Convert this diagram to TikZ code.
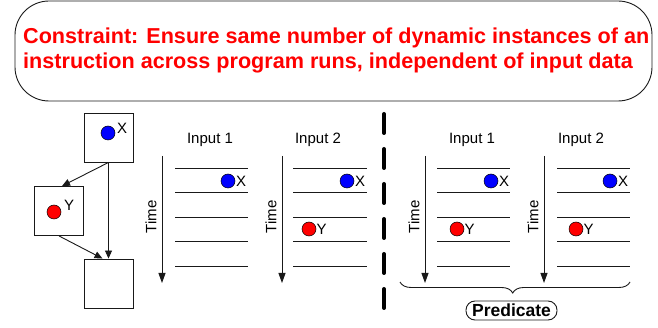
\documentclass[tikz,border=0pt]{standalone}
\usepackage{fontspec}
\setmainfont{Liberation Sans}
\usetikzlibrary{arrows.meta,decorations.pathreplacing}
\begin{document}
\begin{tikzpicture}[x=1pt,y=-1pt,
  every node/.style={inner sep=0pt},
  stroke/.style={line width=0.9pt,draw=black!90},
  blockbox/.style={draw,stroke,minimum width=49pt,minimum height=49pt},
  dotb/.style={circle,draw=black,line width=0.5pt,fill=blue,minimum size=14pt},
  dotr/.style={circle,draw=black,line width=0.5pt,fill=red,minimum size=14pt},
  lbl/.style={font=\fontsize{15}{18}\selectfont},
  flowarrow/.style={stroke,-{Triangle[length=8pt,width=7pt]}},
  timearrow/.style={stroke,-{Triangle[length=10pt,width=7pt]}},
]
\useasboundingbox (0,0) rectangle (658,328);

% banner with the constraint
\node[draw,stroke,rounded corners=34pt,minimum width=637pt,minimum height=100pt] (banner) at (333.5,51) {};
\node[anchor=base west,text=red,font=\bfseries\fontsize{21.6}{25}\selectfont] (line1) at (23,44)
  {Constraint: Ensure same number of dynamic instances of an};
\node[anchor=base west,text=red,font=\bfseries\fontsize{21.6}{25}\selectfont] (line2) at (23,69)
  {instruction across program runs, independent of input data};

% control-flow graph
\node[blockbox] (bx) at (108.5,137.5) {};
\node[blockbox] (by) at (59,211) {};
\node[blockbox] (bz) at (108.5,283.5) {};
\node[dotb] (dx) at (108,133) {};
\node[lbl,anchor=west] (lx) at (117,128) {X};
\node[dotr] (dy) at (54,212) {};
\node[lbl,anchor=west] (ly) at (64,205) {Y};
\draw[flowarrow] (bx.south) -- ([xshift=3pt]by.north);
\draw[flowarrow] (bx.south) -- (bz.north);
\draw[flowarrow] (by.south) -- ([xshift=-6pt]bz.north);

% execution timelines: arrow x, slot x0, slot x1, heading, heading x, name
\newcommand\timeline[6]{%
  \coordinate (#6top) at (#1,156);
  \coordinate (#6bot) at (#1,283);
  \draw[timearrow] (#6top) -- (#6bot);
  \node[lbl,rotate=90] (#6time) at (#1-11,217) {Time};
  \node[lbl] (#6head) at (#5,140) {#4};
  \foreach \yy in {168,192,217,241,266} \draw[stroke] (#2,\yy) -- (#3,\yy);
}
\timeline{162}{175}{248}{Input 1}{210}{ta}
\timeline{282}{293}{367}{Input 2}{318}{tb}
\timeline{425}{437}{510}{Input 1}{472}{tc}
\timeline{544}{557}{630}{Input 2}{581}{td}

% instruction instances
\node[dotb] (ax) at (228,181) {};
\node[lbl,anchor=west] at (236,181) {X};
\node[dotb] (bxx) at (347,181) {};
\node[lbl,anchor=west] at (355,181) {X};
\node[dotr] (byy) at (309,229) {};
\node[lbl,anchor=west] at (316.5,229) {Y};
\node[dotb] (cx) at (491,181) {};
\node[lbl,anchor=west] at (499,181) {X};
\node[dotr] (cy) at (457,229) {};
\node[lbl,anchor=west] at (464.5,229) {Y};
\node[dotb] (dxx) at (610,181) {};
\node[lbl,anchor=west] at (618,181) {X};
\node[dotr] (dyy) at (576,229) {};
\node[lbl,anchor=west] at (583.5,229) {Y};

% separator
\draw[line width=4pt,line cap=round,dash pattern=on 19pt off 16pt] (384,114) -- (384,309);

% predicate brace
\draw[stroke,decorate,decoration={brace,mirror,amplitude=11pt,aspect=0.49}] (400,282) -- (630,282);
\node[draw,stroke,rounded corners=9pt,minimum width=91pt,minimum height=19pt,
  font=\bfseries\fontsize{17.5}{20}\selectfont] (pred) at (511.5,310.5) {Predicate};
\end{tikzpicture}
\end{document}
